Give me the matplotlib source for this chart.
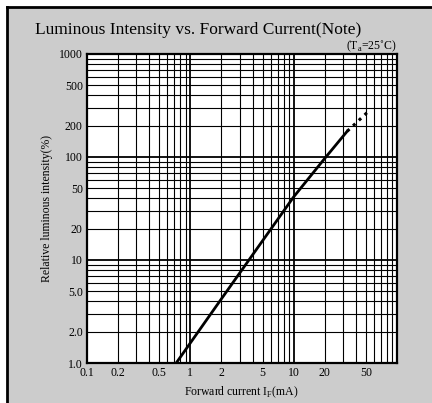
import matplotlib.pyplot as plt
from matplotlib.lines import Line2D
import numpy as np

plt.rcParams['font.family'] = ['Liberation Serif', 'DejaVu Serif']
plt.rcParams['mathtext.fontset'] = 'custom'
plt.rcParams['mathtext.rm'] = 'Liberation Serif'

# curva
corriente = [0.73, 2, 10, 20, 33]
intensidad = [1.0, 4.2, 41, 97, 178]
corriente_ext = [33, 52]
intensidad_ext = [178, 273]

xticks = [0.1, 0.2, 0.5, 1, 2, 5, 10, 20, 50]
xlabels = ['0.1', '0.2', '0.5', '1', '2', '5', '10', '20', '50']
yticks = [1, 2, 5, 10, 20, 50, 100, 200, 500, 1000]
ylabels = ['1.0', '2.0', '5.0', '10', '20', '50', '100', '200', '500', '1000']

fig = plt.figure(figsize=(4.32, 4.03), dpi=100)
fig.patch.set_facecolor('white')
fig.patches.append(plt.Rectangle((7/432, 0), 1, 1 - 8/403, transform=fig.transFigure,
                                 facecolor='#cccccc', edgecolor='none', zorder=-10))
fig.add_artist(Line2D([7/432, 7/432], [0, 1 - 7/403], color='black', lw=2))
fig.add_artist(Line2D([7/432, 1], [1 - 7/403, 1 - 7/403], color='black', lw=2))

ax = fig.add_axes([87/432, 1 - 363/403, 310/432, 309/403])
ax.set_xscale('log')
ax.set_yscale('log')
ax.set_xlim(0.1, 100)
ax.set_ylim(1, 1000)
ax.set_facecolor('white')

# rejilla
for d in [0.1, 1, 10]:
    for k in range(1, 10):
        v = d * k
        if v <= 0.1:
            continue
        ax.axvline(v, color='black', lw=1.3 if k == 1 else 0.8, zorder=1)
for d in [1, 10, 100]:
    for k in range(1, 10):
        v = d * k
        if v <= 1:
            continue
        ax.axhline(v, color='black', lw=1.3 if k == 1 else 0.8, zorder=1)

ax.plot(corriente, intensidad, color='black', lw=2, zorder=3)
ax.plot(corriente_ext, intensidad_ext, color='black', lw=2.2, ls=(0, (1, 1.6)), zorder=3)

ax.set_xticks(xticks)
ax.set_xticklabels(xlabels, fontsize=8.5)
ax.set_yticks(yticks)
ax.set_yticklabels(ylabels, fontsize=8.5)
ax.minorticks_off()
ax.tick_params(length=0, pad=3)
for s in ax.spines.values():
    s.set_linewidth(1.6)

ax.set_xlabel(r'Forward current I$_\mathregular{F}$(mA)', fontsize=8.5)
ax.set_ylabel('Relative luminous intensity(%)', fontsize=8.5)
ax.xaxis.set_label_coords((241 - 87) / 310, -(392 - 363) / 309)
ax.yaxis.set_label_coords(-(87 - 47) / 310, 0.5)
ax.xaxis.label.set_va('center')
ax.yaxis.label.set_va('center')

fig.text(35/432, 1 - 30/403, 'Luminous Intensity vs. Forward Current(Note)',
         fontsize=12.5, ha='left', va='center')
fig.text(397/432, 1 - 46/403, r'(T$_\mathregular{a}$=25˚C)', fontsize=8.5,
         ha='right', va='center')

fig.savefig('out.png', dpi=100, facecolor=fig.get_facecolor())
